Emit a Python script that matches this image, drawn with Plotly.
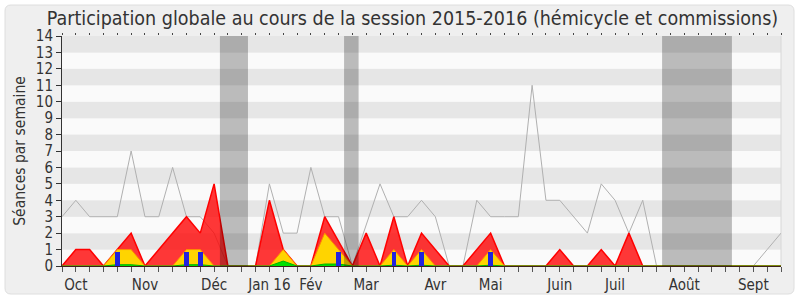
import plotly.graph_objects as go

# ---- data ----
weeks = list(range(53))
month_labels = {1: "Oct", 6: "Nov", 11: "Déc", 15: "Jan 16", 18: "Fév", 22: "Mar",
                27: "Avr", 31: "Mai", 36: "Juin", 40: "Juil", 45: "Août", 50: "Sept"}
total_seances = [3, 4, 3, 3, 3, 7, 3, 3, 6, 3, 3, 2, 0, 0, 0, 5, 2, 2, 6, 3, 3, 0, 2.5, 5, 3, 3,
                 4, 3, 0, 0, 4, 3, 3, 3, 11, 4, 4, 3, 2, 5, 4, 2, 4, 0, 0, 0, 0, 0, 0, 0, 0, 1, 2]
presences = [0, 1, 1, 0, 1, 2, 0, 1, 2, 3, 2, 5, 0, 0, 0, 4, 1, 0, 0, 3, 1.5, 0, 2, 0, 3, 0,
             2, 1, 0, 0, 1, 2, 0, 0, 0, 0, 1, 0, 0, 1, 0, 2, 0, 0, 0, 0, 0, 0, 0, 0, 0, 0, 0]
commission = [0, 0, 0, 0, 1, 1, 0, 0, 0, 1, 1, 0, 0, 0, 0, 0, 1, 0, 0, 2, 1, 0, 0, 0, 1, 0,
              1, 0, 0, 0, 0, 1, 0, 0, 0, 0, 0, 0, 0, 0, 0, 0, 0, 0, 0, 0, 0, 0, 0, 0, 0, 0, 0]
interventions = [0, 0, 0, 0, 0.08, 0.08, 0, 0, 0, 0.08, 0.08, 0, 0, 0, 0, 0, 0.3, 0, 0, 0.12,
                 0.12, 0, 0, 0, 0.05, 0, 0.05, 0, 0, 0, 0, 0.05, 0, 0, 0, 0, 0, 0, 0, 0, 0,
                 0, 0, 0, 0, 0, 0, 0, 0, 0, 0, 0, 0]
question_weeks = [4, 9, 10, 20, 24, 26, 31]
question_values = [0.85, 0.85, 0.85, 0.85, 0.85, 0.85, 0.85]
vacances_debut = [11.42, 20.4, 43.4]
vacances_fin = [13.45, 21.45, 48.45]

FONT = "DejaVu Sans Condensed, DejaVu Sans"
TXT = "#333333"

fig = go.Figure()
fig.add_trace(go.Scatter(x=weeks, y=total_seances, mode="lines",
                         line=dict(color="#b0b0b0", width=1), hoverinfo="skip"))
fig.add_trace(go.Scatter(x=weeks, y=presences, mode="lines", fill="tozeroy",
                         fillcolor="rgba(255,0,0,0.78)",
                         line=dict(color="#ff0000", width=1.5), hoverinfo="skip"))
fig.add_trace(go.Scatter(x=weeks, y=commission, mode="lines", fill="tozeroy",
                         fillcolor="#ffd400",
                         line=dict(color="#ff8c00", width=1), hoverinfo="skip"))
fig.add_trace(go.Scatter(x=weeks, y=interventions, mode="lines", fill="tozeroy",
                         fillcolor="#00e000",
                         line=dict(color="#00b400", width=1), hoverinfo="skip"))
# bars on the overlaid axis so they are drawn above the filled areas
fig.add_trace(go.Bar(x=question_weeks, y=question_values, width=0.33, xaxis="x2",
                     marker=dict(color="#2323dd", line=dict(width=0)), hoverinfo="skip"))

shapes = []
# outer rounded frame (pixel -> paper)
L, R, T, B = 62, 781, 36, 266
W, H = R - L, B - T
def px(x):
    return (x - L) / W
def py(y):
    return (B - y) / H
x0, x1, y0, y1, r = 5, 794, 5, 294, 6
path = (f"M {px(x0 + r)} {py(y0)} L {px(x1 - r)} {py(y0)} Q {px(x1)} {py(y0)} {px(x1)} {py(y0 + r)} "
        f"L {px(x1)} {py(y1 - r)} Q {px(x1)} {py(y1)} {px(x1 - r)} {py(y1)} "
        f"L {px(x0 + r)} {py(y1)} Q {px(x0)} {py(y1)} {px(x0)} {py(y1 - r)} "
        f"L {px(x0)} {py(y0 + r)} Q {px(x0)} {py(y0)} {px(x0 + r)} {py(y0)} Z")
shapes.append(dict(type="path", path=path, xref="paper", yref="paper",
                   fillcolor="#efefef", line=dict(color="#dedede", width=1), layer="below"))
# horizontal bands
for k in range(14):
    shapes.append(dict(type="rect", xref="paper", yref="y", x0=0, x1=1, y0=k, y1=k + 1,
                       fillcolor="#e6e6e6" if k % 2 == 1 else "#fafafa",
                       line=dict(width=0), layer="below"))
# right light edge
shapes.append(dict(type="line", xref="paper", yref="y", x0=1, x1=1, y0=0, y1=14,
                   line=dict(color="#d8d8d8", width=1), layer="below"))
# vacations
for a, b in zip(vacances_debut, vacances_fin):
    shapes.append(dict(type="rect", xref="x", yref="y", x0=a, x1=b, y0=0, y1=14,
                       fillcolor="rgba(0,0,0,0.25)", line=dict(width=0), layer="above"))

fig.update_layout(
    width=800, height=300, autosize=False,
    margin=dict(l=L, r=800 - R, t=T, b=300 - B, pad=0, autoexpand=False),
    paper_bgcolor="white", plot_bgcolor="rgba(0,0,0,0)",
    showlegend=False, shapes=shapes, bargap=0,
    font=dict(family=FONT, size=15, color=TXT),
    title=dict(text="Participation globale au cours de la session 2015-2016 (hémicycle et commissions)",
               x=px(412.5), xref="paper", xanchor="center", y=1 - 18 / 300, yref="container",
               yanchor="middle", font=dict(family=FONT, size=19.5, color=TXT)),
    xaxis=dict(range=[0, 52], tickmode="array", tickvals=weeks,
               ticktext=[month_labels.get(w, "") for w in weeks],
               ticks="outside", ticklen=5, tickcolor="#555555", tickwidth=1,
               showline=True, linecolor="#3d1f1a", linewidth=1, automargin=False,
               showgrid=False, zeroline=False, fixedrange=True,
               tickfont=dict(family=FONT, size=15, color=TXT)),
    xaxis2=dict(range=[0, 52], overlaying="x", side="top", tickmode="array", tickvals=weeks,
                ticks="outside", ticklen=2, tickcolor="#444444", showticklabels=False,
                automargin=False,
                showline=False, showgrid=False, zeroline=False, fixedrange=True),
    yaxis=dict(range=[0, 14], tickmode="array", tickvals=list(range(15)),
               ticks="outside", ticklen=5, tickcolor="#333333", automargin=False,
               showline=True, linecolor="#333333", linewidth=1,
               showgrid=False, zeroline=False, fixedrange=True,
               tickfont=dict(family=FONT, size=15, color=TXT),
               title=dict(text="Séances par semaine", standoff=6,
                          font=dict(family=FONT, size=15.5, color=TXT))),
)

fig.write_html("out.html")
